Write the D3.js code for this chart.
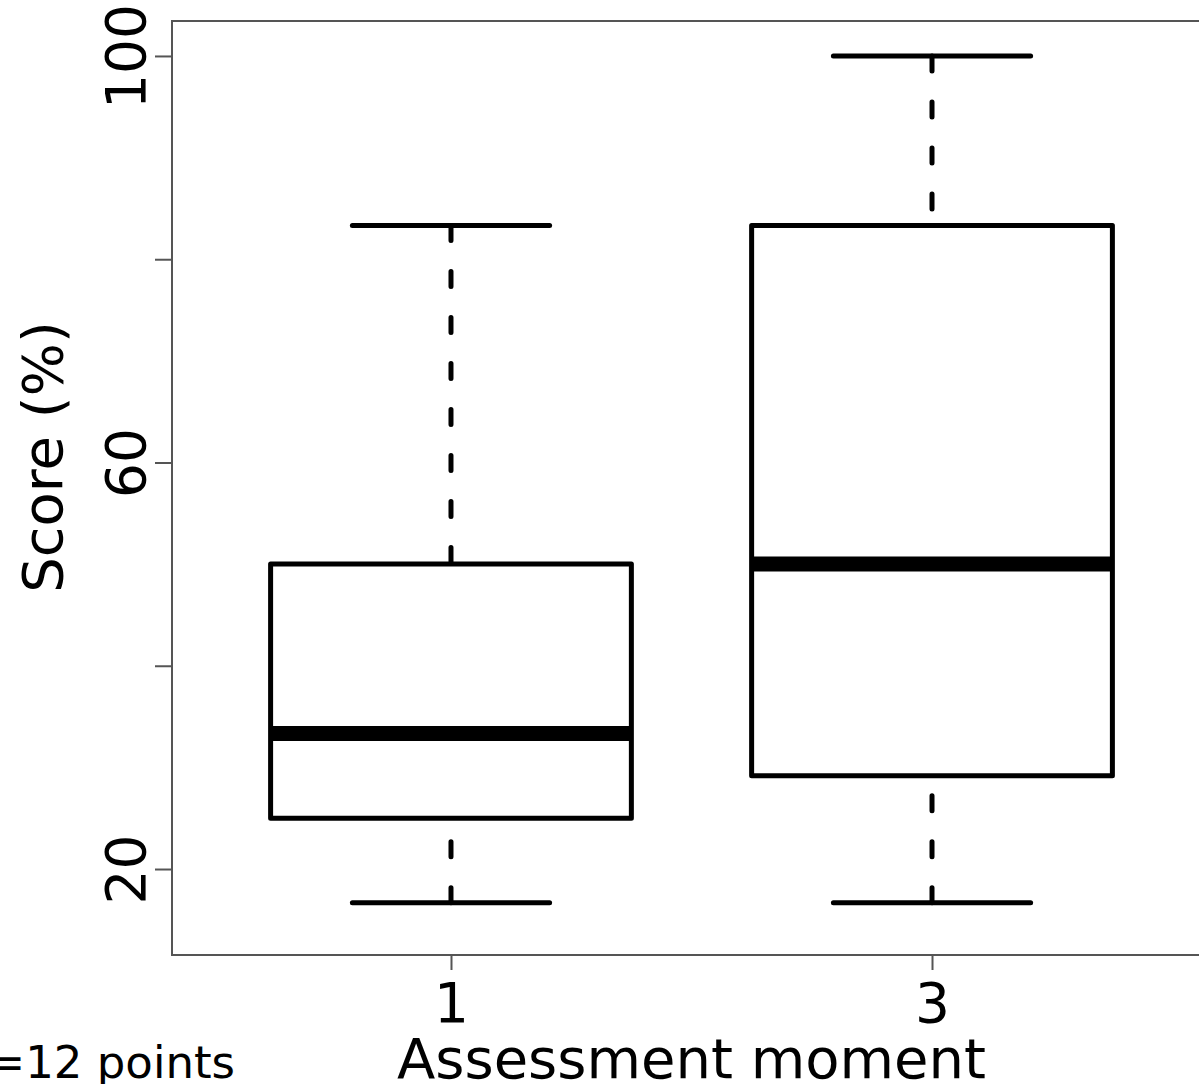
<!DOCTYPE html>
<html>
<head>
<meta charset="utf-8">
<script src="https://cdn.jsdelivr.net/npm/d3@7"></script>
<style>
  html, body { margin: 0; padding: 0; background: #fff; overflow: hidden; }
  svg { display: block; }
  text { font-family: "DejaVu Sans", Verdana, sans-serif; fill: #000; }
</style>
</head>
<body>
<svg id="chart" width="1199" height="1084"></svg>
<script>
// Five-number summaries of the score (%) per assessment moment
const moments  = ["1", "3"];
const minVals  = [16.67, 16.67];
const q1Vals   = [25.00, 29.17];
const medVals  = [33.33, 50.00];
const q3Vals   = [50.00, 83.33];
const maxVals  = [83.33, 100.00];

// Y axis ticks; only some of them carry a label
const yTicks      = [20, 40, 60, 80, 100];
const yTickLabels = ["20", "", "60", "", "100"];

const svg = d3.select("#chart");

const plot = { left: 172, right: 1211, top: 21, bottom: 955 };

const x = d3.scaleLinear().domain([0.42, 2.58]).range([plot.left, plot.right]);
const y = d3.scaleLinear().domain([11.54, 103.44]).range([plot.bottom, plot.top]);

const boxHalf = 0.375;   // half box width, in x units
const capHalf = 0.205;   // half staple width, in x units

const data = moments.map((m, i) => ({
  label: m, pos: i + 1,
  min: minVals[i], q1: q1Vals[i], med: medVals[i], q3: q3Vals[i], max: maxVals[i]
}));

// Plot frame
svg.append("rect")
  .attr("x", plot.left).attr("y", plot.top)
  .attr("width", plot.right - plot.left).attr("height", plot.bottom - plot.top)
  .attr("fill", "none").attr("stroke", "#555").attr("stroke-width", 2);

// Y axis
const yAxis = d3.axisLeft(y)
  .tickValues(yTicks)
  .tickSize(17)
  .tickPadding(0)
  .tickFormat((d, i) => yTickLabels[i]);
const gy = svg.append("g").attr("transform", `translate(${plot.left},0)`).call(yAxis);
gy.select(".domain").remove();
gy.selectAll(".tick line").attr("stroke", "#555").attr("stroke-width", 2);
gy.selectAll(".tick text")
  .attr("x", 0).attr("y", 0)
  .attr("transform", "translate(-27,0) rotate(-90)")
  .attr("text-anchor", "middle")
  .attr("dy", 0)
  .style("font-size", "55px")
  .style("font-family", "DejaVu Sans, Verdana, sans-serif")
  .attr("fill", "#000");

// X axis
const xAxis = d3.axisBottom(x)
  .tickValues(data.map(d => d.pos))
  .tickSize(15)
  .tickPadding(0)
  .tickFormat((d, i) => moments[i]);
const gx = svg.append("g").attr("transform", `translate(0,${plot.bottom})`).call(xAxis);
gx.select(".domain").remove();
gx.selectAll(".tick line").attr("stroke", "#555").attr("stroke-width", 2);
gx.selectAll(".tick text")
  .attr("y", 67).attr("dy", 0)
  .style("font-size", "55px")
  .style("font-family", "DejaVu Sans, Verdana, sans-serif")
  .attr("fill", "#000");

// Boxes
const g = svg.append("g");
const boxes = g.selectAll("g.box").data(data).join("g").attr("class", "box");

// dashed whiskers, drawn from the extreme value towards the box
boxes.append("line")
  .attr("x1", d => x(d.pos)).attr("x2", d => x(d.pos))
  .attr("y1", d => y(d.max)).attr("y2", d => y(d.q3))
  .attr("stroke", "#000").attr("stroke-width", 5)
  .attr("stroke-linecap", "round").attr("stroke-dasharray", "15 31");
boxes.append("line")
  .attr("x1", d => x(d.pos)).attr("x2", d => x(d.pos))
  .attr("y1", d => y(d.min)).attr("y2", d => y(d.q1))
  .attr("stroke", "#000").attr("stroke-width", 5)
  .attr("stroke-linecap", "round").attr("stroke-dasharray", "15 31");

// staples
["max", "min"].forEach(k => {
  boxes.append("line")
    .attr("x1", d => x(d.pos - capHalf)).attr("x2", d => x(d.pos + capHalf))
    .attr("y1", d => y(d[k])).attr("y2", d => y(d[k]))
    .attr("stroke", "#000").attr("stroke-width", 5)
    .attr("stroke-linecap", "round");
});

// box
boxes.append("rect")
  .attr("x", d => x(d.pos - boxHalf))
  .attr("width", d => x(d.pos + boxHalf) - x(d.pos - boxHalf))
  .attr("y", d => y(d.q3))
  .attr("height", d => y(d.q1) - y(d.q3))
  .attr("fill", "#fff").attr("stroke", "#000").attr("stroke-width", 5)
  .attr("stroke-linejoin", "round");

// median
boxes.append("line")
  .attr("x1", d => x(d.pos - boxHalf)).attr("x2", d => x(d.pos + boxHalf))
  .attr("y1", d => y(d.med)).attr("y2", d => y(d.med))
  .attr("stroke", "#000").attr("stroke-width", 15)
  .attr("stroke-linecap", "butt");

// Axis titles
svg.append("text")
  .attr("transform", `translate(62,${457}) rotate(-90)`)
  .attr("text-anchor", "middle")
  .style("font-size", "56px")
  .text("Score (%)");

svg.append("text")
  .attr("x", (plot.left + plot.right) / 2)
  .attr("y", 1078)
  .attr("text-anchor", "middle")
  .style("font-size", "56px")
  .text("Assessment moment");

// Note at the bottom left
svg.append("text")
  .attr("x", 235).attr("y", 1078)
  .attr("text-anchor", "end")
  .style("font-size", "45px")
  .text("Max=12 points");
</script>
</body>
</html>
